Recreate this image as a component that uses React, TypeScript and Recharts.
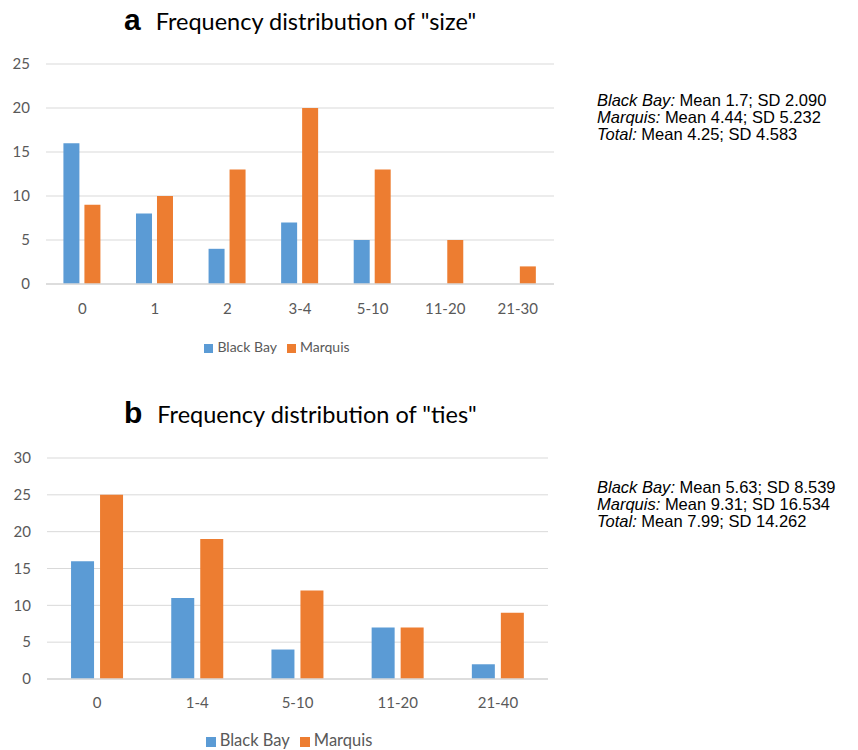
import React from 'react';
import { BarChart, Bar, XAxis, YAxis, CartesianGrid, Legend } from 'recharts';

// panel a: "size"
const sizeCategories = ['0', '1', '2', '3-4', '5-10', '11-20', '21-30'];
const sizeBlackBay = [16, 8, 4, 7, 5, 0, 0];
const sizeMarquis = [9, 10, 13, 20, 13, 5, 2];
const sizeTicks = [0, 5, 10, 15, 20, 25];

// panel b: "ties"
const tiesCategories = ['0', '1-4', '5-10', '11-20', '21-40'];
const tiesBlackBay = [16, 11, 4, 7, 2];
const tiesMarquis = [25, 19, 12, 7, 9];
const tiesTicks = [0, 5, 10, 15, 20, 25, 30];

const sizeStats = [
  ['Black Bay', 'Mean 1.7; SD 2.090'],
  ['Marquis', 'Mean 4.44; SD 5.232'],
  ['Total', 'Mean 4.25; SD 4.583'],
];
const tiesStats = [
  ['Black Bay', 'Mean 5.63; SD 8.539'],
  ['Marquis', 'Mean 9.31; SD 16.534'],
  ['Total', 'Mean 7.99; SD 14.262'],
];

const BLUE = '#5B9BD5';
const ORANGE = '#ED7D31';
const GRID = '#D9D9D9';
const TEXT = '#595959';
const FONT = 'Lato, "Open Sans", sans-serif';

const toRows = (cats: string[], bb: number[], mq: number[]) =>
  cats.map((c, i) => ({ cat: c, blackBay: bb[i], marquis: mq[i] }));

const sizeData = toRows(sizeCategories, sizeBlackBay, sizeMarquis);
const tiesData = toRows(tiesCategories, tiesBlackBay, tiesMarquis);

const Title: React.FC<{ letter: string; text: string; top: number }> = ({ letter, text, top }) => (
  <div style={{ position: 'absolute', left: 124, top, display: 'flex', alignItems: 'baseline', whiteSpace: 'nowrap' }}>
    <span style={{ fontFamily: '"Liberation Sans", Arial, sans-serif', fontWeight: 'bold', fontSize: 30, color: '#000' }}>
      {letter}
    </span>
    <span style={{ fontFamily: FONT, fontSize: 23.5, color: '#000', marginLeft: 15 }}>{text}</span>
  </div>
);

const Stats: React.FC<{ rows: string[][]; top: number }> = ({ rows, top }) => (
  <div
    style={{
      position: 'absolute',
      left: 597,
      top,
      fontFamily: '"Liberation Sans", Arial, sans-serif',
      fontSize: 16.5,
      lineHeight: '17px',
      color: '#000',
      whiteSpace: 'nowrap',
    }}
  >
    {rows.map(([name, rest]) => (
      <div key={name}>
        <i>{name}:</i> {rest}
      </div>
    ))}
  </div>
);

const legendText = (size: number) => (value: string) => (
  <span style={{ color: TEXT, fontSize: size, fontFamily: FONT }}>{value}</span>
);

export default function App() {
  return (
    <div style={{ position: 'absolute', left: 0, top: 0, width: 858, height: 750, background: '#fff', overflow: 'hidden' }}>
      <Title letter="a" text={'Frequency distribution of "size"'} top={3} />
      <Title letter="b" text={'Frequency distribution of "ties"'} top={396} />

      <div style={{ position: 'absolute', left: 0, top: 0 }}>
        <BarChart
          width={600}
          height={380}
          data={sizeData}
          margin={{ top: 64, right: 46, bottom: 66, left: 6 }}
          barCategoryGap="24%"
          barGap={5}
        >
          <CartesianGrid vertical={false} stroke={GRID} />
          <XAxis
            dataKey="cat"
            height={30}
            tickLine={false}
            tickSize={0}
            tickMargin={19}
            axisLine={{ stroke: GRID, strokeWidth: 1.5 }}
            tick={{ fill: TEXT, fontSize: 15, fontFamily: FONT }}
          />
          <YAxis
            width={40}
            domain={[0, 25]}
            ticks={sizeTicks}
            axisLine={false}
            tickLine={false}
            tickSize={0}
            tickMargin={16}
            tick={{ fill: TEXT, fontSize: 15, fontFamily: FONT }}
          />
          <Legend
            layout="horizontal"
            verticalAlign="middle"
            align="center"
            iconType="square"
            iconSize={9}
            formatter={legendText(14)}
            wrapperStyle={{ top: 338, left: 12, width: 540 }}
          />
          <Bar dataKey="blackBay" name="Black Bay" fill={BLUE} isAnimationActive={false} />
          <Bar dataKey="marquis" name="Marquis" fill={ORANGE} isAnimationActive={false} />
        </BarChart>
      </div>

      <div style={{ position: 'absolute', left: 0, top: 394 }}>
        <BarChart
          width={600}
          height={356}
          data={tiesData}
          margin={{ top: 64, right: 52, bottom: 356 - 285 - 30, left: 7 }}
          barCategoryGap="24%"
          barGap={6}
        >
          <CartesianGrid vertical={false} stroke={GRID} />
          <XAxis
            dataKey="cat"
            height={30}
            tickLine={false}
            tickSize={0}
            tickMargin={18}
            axisLine={{ stroke: GRID, strokeWidth: 1.5 }}
            tick={{ fill: TEXT, fontSize: 15, fontFamily: FONT }}
          />
          <YAxis
            width={40}
            domain={[0, 30]}
            ticks={tiesTicks}
            axisLine={false}
            tickLine={false}
            tickSize={0}
            tickMargin={16}
            tick={{ fill: TEXT, fontSize: 15, fontFamily: FONT }}
          />
          <Legend
            layout="horizontal"
            verticalAlign="middle"
            align="center"
            iconType="square"
            iconSize={10}
            formatter={legendText(16.5)}
            wrapperStyle={{ top: 336, left: 24, width: 540 }}
          />
          <Bar dataKey="blackBay" name="Black Bay" fill={BLUE} isAnimationActive={false} />
          <Bar dataKey="marquis" name="Marquis" fill={ORANGE} isAnimationActive={false} />
        </BarChart>
      </div>

      <Stats rows={sizeStats} top={92} />
      <Stats rows={tiesStats} top={479} />
    </div>
  );
}
